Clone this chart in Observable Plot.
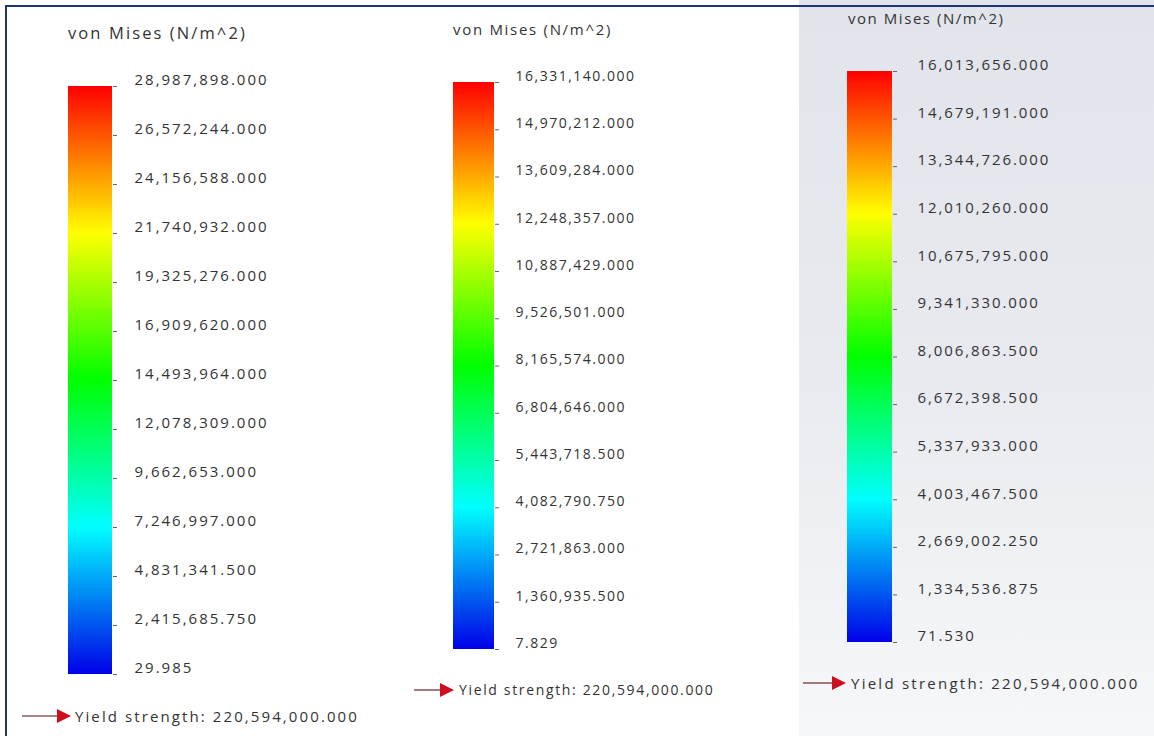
<!DOCTYPE html>
<html>
<head>
<meta charset="utf-8">
<script src="https://cdn.jsdelivr.net/npm/d3@7"></script>
<script src="https://cdn.jsdelivr.net/npm/@observablehq/plot@0.6"></script>
<style>
  html, body { margin: 0; padding: 0; background: #ffffff; }
  #root { position: relative; width: 1154px; height: 736px; overflow: hidden; background: #ffffff; font-family: "Open Sans", "Noto Sans", sans-serif; color: #333; }
  .bg3 { position: absolute; left: 799px; top: 0; width: 355px; height: 736px; background: linear-gradient(to bottom, #e1e4eb 0%, #e8eaef 50%, #f6f7f9 100%); }
  .btop { position: absolute; left: 5px; top: 5px; width: 1149px; height: 2px; background: #1f3377; }
  .bleft { position: absolute; left: 5px; top: 5px; width: 2px; height: 731px; background: #1f3377; }
  .title { position: absolute; white-space: nowrap; color: #333; }
  .yield { position: absolute; white-space: nowrap; display: flex; align-items: center; color: #333; }
  .yield svg { display: block; }
</style>
</head>
<body>
<div id="root">
  <div class="bg3"></div>
  <div class="btop"></div>
  <div class="bleft"></div>
</div>
<script>
// ---- Data ----
const titleText = "von Mises (N/m^2)";
const yieldText = "Yield strength: 220,594,000.000";

const labels1 = ["29.985", "2,415,685.750", "4,831,341.500", "7,246,997.000", "9,662,653.000", "12,078,309.000", "14,493,964.000", "16,909,620.000", "19,325,276.000", "21,740,932.000", "24,156,588.000", "26,572,244.000", "28,987,898.000"];
const labels2 = ["7.829", "1,360,935.500", "2,721,863.000", "4,082,790.750", "5,443,718.500", "6,804,646.000", "8,165,574.000", "9,526,501.000", "10,887,429.000", "12,248,357.000", "13,609,284.000", "14,970,212.000", "16,331,140.000"];
const labels3 = ["71.530", "1,334,536.875", "2,669,002.250", "4,003,467.500", "5,337,933.000", "6,672,398.500", "8,006,863.500", "9,341,330.000", "10,675,795.000", "12,010,260.000", "13,344,726.000", "14,679,191.000", "16,013,656.000"];

// rainbow stops (normalized position -> colour), SolidWorks style
const stopPos = [0, 0.25, 0.5, 0.75, 1];
const stopColors = ["#0000e8", "#00ffff", "#00ff00", "#ffff00", "#ff0000"];

// ---- Layout per panel ----
const panels = [
  { labels: labels1, left: 0, width: 400, mL: 68, mR: 288, mT: 86, mB: 62, off: 22, fs: 15, ls: 2.0,
    title: { x: 68, y: 21, fs: 16.5, ls: 2.1 }, yld: { x: 20, y: 706, fs: 15, ls: 2.1, aw: 52, gap: 3 } },
  { labels: labels2, left: 400, width: 380, mL: 53, mR: 286, mT: 82, mB: 87, off: 21, fs: 14, ls: 1.5,
    title: { x: 453, y: 19, fs: 15, ls: 1.7 }, yld: { x: 412, y: 680, fs: 14, ls: 1.65, aw: 43, gap: 4 } },
  { labels: labels3, left: 790, width: 364, mL: 57, mR: 262, mT: 71, mB: 94, off: 25, fs: 15, ls: 1.9,
    title: { x: 848, y: 8, fs: 15, ls: 1.55 }, yld: { x: 801, y: 673, fs: 15, ls: 2.25, aw: 46, gap: 4 } }
];

const root = document.getElementById("root");

function arrowSvg(w) {
  const ns = "http://www.w3.org/2000/svg";
  const s = document.createElementNS(ns, "svg");
  s.setAttribute("width", w); s.setAttribute("height", "16");
  s.innerHTML = '<line x1="2" y1="8" x2="' + (w - 12) + '" y2="8" stroke="#8f5a60" stroke-width="1.6"/>' +
                '<polygon points="' + (w - 15) + ',1 ' + (w - 1) + ',8 ' + (w - 15) + ',15" fill="#cc1020"/>';
  return s;
}

panels.forEach((p) => {
  const values = p.labels.map(s => +s.replace(/,/g, ""));
  const lo = values[0], hi = values[values.length - 1];
  const labelOf = new Map(values.map((v, i) => [v, p.labels[i]]));
  // gradient slices spanning the legend domain
  const N = 300;
  const slices = d3.range(N).map(i => ({ y1: lo + (hi - lo) * i / N, y2: lo + (hi - lo) * (i + 1) / N, t: (i + 0.5) / N }));

  const chart = Plot.plot({
    width: p.width,
    height: 736,
    marginLeft: p.mL, marginRight: p.mR, marginTop: p.mT, marginBottom: p.mB,
    style: { background: "transparent", fontFamily: "'Open Sans', 'Noto Sans', sans-serif", fontSize: p.fs + "px", letterSpacing: p.ls + "px", color: "#333" },
    x: { domain: [0, 1], axis: null },
    y: { domain: [lo, hi], axis: null },
    color: { type: "linear", domain: stopPos, range: stopColors, interpolate: "rgb" },
    marks: [
      Plot.rect(slices, { x1: 0, x2: 1, y1: "y1", y2: "y2", fill: "t", shapeRendering: "crispEdges" }),
      // tick marks at the values
      Plot.axisY({ anchor: "right", ticks: values, tickSize: 4, fill: "none", stroke: "#666", tickFormat: null }),
      // labels set slightly above each tick
      Plot.axisY({ anchor: "right", ticks: values, tickSize: 0, tickPadding: p.off, dy: -6,
        tickFormat: d => labelOf.get(d), fill: "#333", fontSize: p.fs })
    ]
  });
  chart.style.position = "absolute";
  chart.style.left = p.left + "px";
  chart.style.top = "0px";
  root.appendChild(chart);

  const t = document.createElement("div");
  t.className = "title";
  t.textContent = titleText;
  t.style.left = p.title.x + "px";
  t.style.top = p.title.y + "px";
  t.style.fontSize = p.title.fs + "px";
  t.style.letterSpacing = p.title.ls + "px";
  root.appendChild(t);

  const y = document.createElement("div");
  y.className = "yield";
  y.style.left = p.yld.x + "px";
  y.style.top = p.yld.y + "px";
  y.style.fontSize = p.yld.fs + "px";
  y.style.letterSpacing = p.yld.ls + "px";
  const a = arrowSvg(p.yld.aw);
  a.style.marginRight = p.yld.gap + "px";
  y.appendChild(a);
  const span = document.createElement("span");
  span.textContent = yieldText;
  y.appendChild(span);
  root.appendChild(y);
});
</script>
</body>
</html>
